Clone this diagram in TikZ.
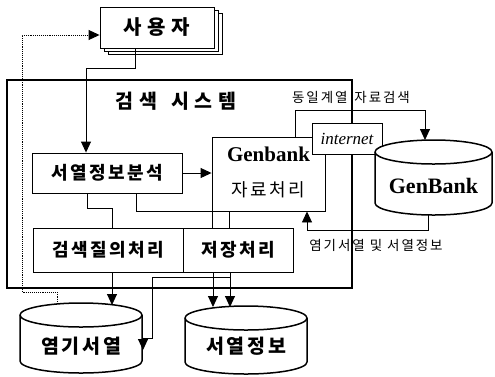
\documentclass[tikz,border=0pt]{standalone}
\usepackage{fontspec}
\setmainfont{Liberation Serif}
\newfontfamily\kr{Noto Sans CJK KR}[LetterSpace=14]
\newfontfamily\krw{Noto Sans CJK KR}[LetterSpace=28]
\usetikzlibrary{arrows.meta}
\newcommand\drawcyl[5]{%
  \pgfmathsetmacro\cylrx{(#3-#1)/2}%
  \draw[cyl] (#1,#2+#5) -- (#1,#4-#5) arc[start angle=180,end angle=360,x radius=\cylrx pt,y radius=#5pt] -- (#3,#2+#5) arc[start angle=0,end angle=180,x radius=\cylrx pt,y radius=#5pt] -- cycle;
  \draw[cyl] (#1,#2+#5) arc[start angle=180,end angle=360,x radius=\cylrx pt,y radius=#5pt];
}
\begin{document}
\begin{tikzpicture}[x=1pt,y=-1pt,
  box/.style={draw,fill=white,line width=0.9pt,inner sep=0pt},
  sheet/.style={draw,fill=white,line width=0.9pt},
  cyl/.style={draw,fill=white,line width=1.5pt},
  ln/.style={line width=0.9pt},
  arr/.style={line width=0.9pt,-{Triangle[length=11pt,width=10pt]}},
  dotarr/.style={line width=0.9pt,densely dotted,-{Triangle[length=11pt,width=10pt]}},
  krb/.style={font=\kr\bfseries\fontsize{#1}{#1}\selectfont},
  krwb/.style={font=\krw\bfseries\fontsize{#1}{#1}\selectfont},
  krm/.style={font=\kr\fontsize{#1}{#1}\selectfont}]
\useasboundingbox (0,0) rectangle (495,376);

% user (stacked sheets)
\draw[sheet] (108,13) rectangle (222,54);
\draw[sheet] (104,10) rectangle (218,51);
\node[box,minimum width=114pt,minimum height=41pt,krwb=20] (user) at (157,27.5) {사용자};

% system frame
\node[draw,line width=2pt,minimum width=345pt,minimum height=208pt,inner sep=0pt] (sys) at (179.5,184) {};
\node[krwb=19.5] (title) at (176,101) {검색\hspace{14pt}시스템};

% inner boxes
\node[box,minimum width=150pt,minimum height=40pt,krb=18] (seqan) at (107,173) {서열정보분석};
\node[box,minimum width=113pt,minimum height=74pt] (gbp) at (268.5,174) {};
\node[font=\rmfamily\bfseries\fontsize{21}{21}\selectfont] (gbpa) at (268.5,154) {Genbank};
\node[krm=18] (gbpb) at (268.5,190) {자료처리};
\node[box,minimum width=70pt,minimum height=31pt,font=\rmfamily\itshape\fontsize{17}{17}\selectfont] (inet) at (347,138.5) {internet};
\node[box,minimum width=150pt,minimum height=44pt,krb=18] (query) at (108,250) {검색질의처리};
\node[box,minimum width=110pt,minimum height=44pt,krb=18] (store) at (238,250) {저장처리};

% cylinders
\drawcyl{375}{140}{492}{215}{12}
\node[font=\rmfamily\bfseries\fontsize{22}{22}\selectfont] (gbk) at (433.5,186) {GenBank};
\drawcyl{20}{303}{142}{373}{12}
\node[krb=19.5] (yg) at (81,346) {염기서열};
\drawcyl{185}{306}{307}{374}{12}
\node[krb=19.5] (sj) at (246,346) {서열정보};
\coordinate (gbktop) at (425,140);
\coordinate (gbkbot) at (428,215);
\coordinate (ygtop) at (81,305);
\coordinate (ygdot) at (57,304);
\coordinate (sjtop) at (246,307);
\coordinate (dotL) at (22,292);
\coordinate (ygside) at (143,350);

% labels
\node[krm=13.5] (lab1) at (351,97) {동일계열\hspace{7pt}자료검색};
\node[krm=13.5] (lab2) at (376,245) {염기서열\hspace{5pt}및\hspace{5pt}서열정보};

% connectors
\draw[arr] ([xshift=-22pt]user.south) -- ++(0,20) -| ([xshift=-21pt]seqan.north);
\draw[arr] (seqan.east) -- (seqan.east -| gbp.west);
\draw[dotarr] (ygdot) |- (dotL) |- ([yshift=-7.5pt]user.west);
\draw[ln] ([xshift=-20pt]seqan.south) -- ++(0,15) -| ([xshift=4pt]query.north);
\draw[ln] ([xshift=29pt]seqan.south) |- (gbp.south west);
\draw[ln] ([xshift=1pt]gbp.south west) -- ([xshift=1pt]gbp.south west |- store.north);
\draw[ln] ([xshift=18pt]gbp.south west) -- ([xshift=18pt]gbp.south west |- store.north);
\draw[arr] ([xshift=-25pt]store.south) -- ([xshift=-25pt]store.south |- sjtop);
\draw[arr] ([xshift=-8pt]store.south) -- ([xshift=-8pt]store.south |- sjtop);
\draw[ln] ([xshift=-8pt,yshift=-5pt]store.south) -| (152,338) -- (143,338);
\draw[arr] (143,337.5) -- (ygside);
\draw[arr] ([xshift=4pt]query.south) -- ([xshift=4pt]query.south |- ygtop);
\draw[arr] ([xshift=26.5pt]gbp.north) -- ++(0,-26) -| (gbktop);
\draw[arr] (gbkbot) -- ++(0,15) -| ([xshift=38.5pt]gbp.south);
\end{tikzpicture}
\end{document}
